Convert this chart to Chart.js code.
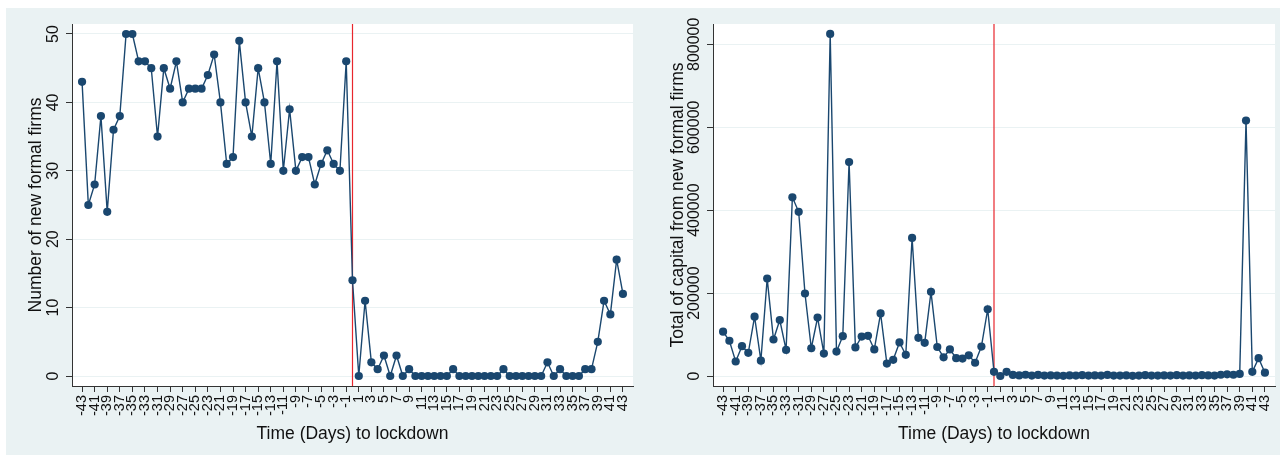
<!DOCTYPE html>
<html>
<head>
<meta charset="utf-8">
<script src="https://cdn.jsdelivr.net/npm/chart.js@4/dist/chart.umd.min.js"></script>
<style>
  html, body { margin: 0; padding: 0; background: #fff; }
  #bg { position: absolute; left: 6px; top: 8px; width: 1274px; height: 447px; background: #eaf2f3; }
  .panel { position: absolute; top: 8px; height: 447px; }
  #left { left: 6px; width: 646px; }
  #right { left: 652px; width: 628px; }
</style>
</head>
<body>
<div id="bg"></div>
<div class="panel" id="left"><canvas id="firmsChart"></canvas></div>
<div class="panel" id="right"><canvas id="capitalChart"></canvas></div>
<script>
// days relative to lockdown (day 0)
const days = [-43, -42, -41, -40, -39, -38, -37, -36, -35, -34, -33, -32, -31, -30, -29, -28, -27, -26, -25, -24, -23, -22,
  -21, -20, -19, -18, -17, -16, -15, -14, -13, -12, -11, -10, -9, -8, -7, -6, -5, -4, -3, -2, -1, 0,
  1, 2, 3, 4, 5, 6, 7, 8, 9, 10, 11, 12, 13, 14, 15, 16, 17, 18, 19, 20, 21, 22,
  23, 24, 25, 26, 27, 28, 29, 30, 31, 32, 33, 34, 35, 36, 37, 38, 39, 40, 41, 42, 43];

const xTickDays = [-43, -41, -39, -37, -35, -33, -31, -29, -27, -25, -23, -21, -19, -17, -15, -13, -11, -9, -7, -5, -3, -1,
  1, 3, 5, 7, 9, 11, 13, 15, 17, 19, 21, 23, 25, 27, 29, 31, 33, 35, 37, 39, 41, 43];

const newFirms = [43, 25, 28, 38, 24, 36, 38, 50, 50, 46, 46, 45, 35, 45, 42, 46, 40, 42, 42, 42, 44, 47,
  40, 31, 32, 49, 40, 35, 45, 40, 31, 46, 30, 39, 30, 32, 32, 28, 31, 33, 31, 30, 46, 14,
  0, 11, 2, 1, 3, 0, 3, 0, 1, 0, 0, 0, 0, 0, 0, 1, 0, 0, 0, 0, 0, 0,
  0, 1, 0, 0, 0, 0, 0, 0, 2, 0, 1, 0, 0, 0, 1, 1, 5, 11, 9, 17, 12];

const capital = [107000, 85000, 35000, 72000, 56000, 143000, 37000, 235000, 88000, 135000, 63000, 431000,
  396000, 199000, 67000, 141000, 54000, 825000, 59000, 96000, 516000, 69000, 95000, 97000,
  64000, 151000, 30000, 39000, 81000, 51000, 333000, 92000, 80000, 203000, 70000, 45000,
  64000, 43000, 42000, 50000, 32000, 71000, 161000, 10000,
  0, 10000, 2500, 1500, 3000, 1000, 2500, 1000, 1500, 1000, 500, 1500, 1000, 2000, 1000,
  1500, 1000, 2500, 1000, 1000, 1500, 500, 1000, 2000, 1000, 1000, 1500, 1000, 2000, 1000,
  1500, 1000, 2000, 1500, 1000, 3000, 4000, 3000, 5000, 616000, 10000, 43000, 8000];

const firmsYTicks = [0, 10, 20, 30, 40, 50];
const capitalYTicks = [0, 200000, 400000, 600000, 800000];
const lockdownDay = 0;

const NAVY = '#1a476f';
const FONT = "'Liberation Sans', Arial, sans-serif";

// white plot region and red lockdown line behind the series
const plotDecor = {
  id: 'plotDecor',
  beforeDraw(chart) {
    const { ctx, chartArea: a } = chart;
    ctx.save();
    ctx.fillStyle = '#fff';
    ctx.fillRect(a.left, a.top, a.right - a.left, a.bottom - a.top);
    ctx.restore();
  },
  beforeDatasetsDraw(chart) {
    const { ctx, chartArea: a } = chart;
    const x = chart.scales.x.getPixelForValue(lockdownDay);
    ctx.save();
    ctx.strokeStyle = '#e8262d';
    ctx.lineWidth = 1.2;
    ctx.beginPath();
    ctx.moveTo(x, a.top);
    ctx.lineTo(x, a.bottom);
    ctx.stroke();
    ctx.restore();
  }
};

// stata style vertical y tick labels
const verticalYLabels = {
  id: 'verticalYLabels',
  afterDraw(chart) {
    const { ctx } = chart;
    const y = chart.scales.y;
    ctx.save();
    ctx.font = '16px ' + FONT;
    ctx.fillStyle = '#111';
    ctx.textAlign = 'center';
    ctx.textBaseline = 'middle';
    y.ticks.forEach(t => {
      ctx.save();
      ctx.translate(y.right - 6 - 12.5, y.getPixelForValue(t.value));
      ctx.rotate(-Math.PI / 2);
      ctx.fillText(String(t.value), 0, 0);
      ctx.restore();
    });
    ctx.restore();
  }
};

function makeChart(canvasId, values, yTicks, yTitle, o) {
  return new Chart(document.getElementById(canvasId).getContext('2d'), {
    type: 'line',
    data: {
      datasets: [{
        data: days.map((d, i) => ({ x: d, y: values[i] })),
        borderColor: NAVY,
        borderWidth: 1.4,
        pointRadius: 4.1,
        pointBackgroundColor: NAVY,
        pointBorderWidth: 0,
        tension: 0
      }]
    },
    options: {
      responsive: true,
      maintainAspectRatio: false,
      animation: false,
      layout: { padding: { left: 0, right: o.rightPad, top: 16, bottom: 0 } },
      plugins: { legend: { display: false }, tooltip: { enabled: false } },
      scales: {
        x: {
          type: 'linear',
          min: -44.6,
          max: 44.6,
          afterBuildTicks: s => { s.ticks = xTickDays.map(v => ({ value: v })); },
          afterFit: s => { s.height = 69; s.paddingLeft = 0; s.paddingRight = 0; },
          ticks: {
            autoSkip: false,
            minRotation: 90,
            maxRotation: 90,
            padding: 3,
            color: '#111',
            font: { family: FONT, size: 14.5 }
          },
          grid: { drawOnChartArea: false, tickLength: 6, tickColor: '#333' },
          border: { color: '#333', width: 1 },
          title: {
            display: true,
            text: 'Time (Days) to lockdown',
            color: '#111',
            font: { family: FONT, size: 17.5 },
            padding: { top: 0, bottom: 10.5 }
          }
        },
        y: {
          type: 'linear',
          min: o.yMin,
          max: o.yMax,
          afterBuildTicks: s => { s.ticks = yTicks.map(v => ({ value: v })); },
          afterFit: s => { s.width = o.yWidth; s.paddingTop = 0; s.paddingBottom = 0; },
          ticks: { display: false },
          grid: { color: '#eaf2f3', lineWidth: 1, tickLength: 6, tickColor: '#333' },
          border: { color: '#333', width: 1 },
          title: {
            display: true,
            text: yTitle,
            color: '#111',
            font: { family: FONT, size: 17.5 },
            padding: { top: o.titlePad, bottom: 0 }
          }
        }
      }
    },
    plugins: [plotDecor, verticalYLabels]
  });
}

makeChart('firmsChart', newFirms, firmsYTicks, 'Number of new formal firms',
  { yMin: -1.46, yMax: 51.46, yWidth: 66, rightPad: 19, titlePad: 19.5 });
makeChart('capitalChart', capital, capitalYTicks, 'Total of capital from new formal firms',
  { yMin: -24100, yMax: 848960, yWidth: 61, rightPad: 5, titlePad: 16 });
</script>
</body>
</html>
